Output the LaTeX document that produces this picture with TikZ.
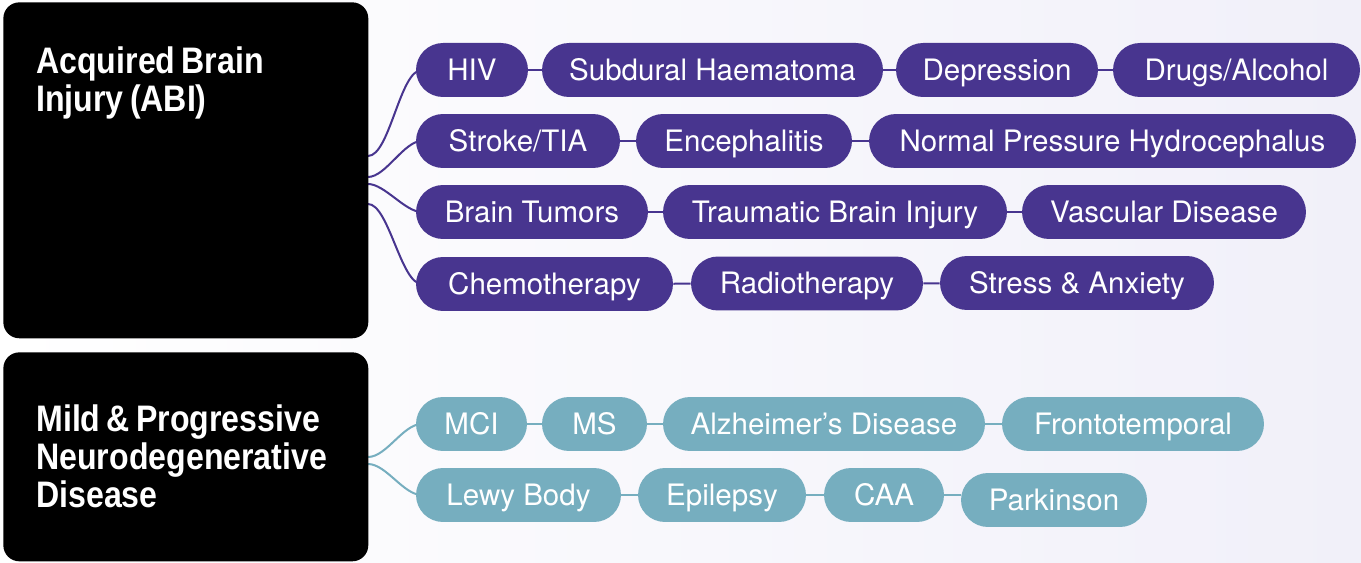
\documentclass[tikz,border=0pt]{standalone}
\usepackage{fontspec}
\setmainfont{TeX Gyre Heros}
\newfontfamily\titlefont[FakeStretch=0.87]{Liberation Sans}
\DeclareRobustCommand\tighttitle{\spaceskip=0.17em\relax}
\definecolor{pillPurple}{RGB}{72,53,143}
\definecolor{pillTeal}{RGB}{118,174,191}
\definecolor{bgLavender}{RGB}{241,240,249}
\usepackage{tikz}
\usetikzlibrary{backgrounds,calc}

\begin{document}
\begin{tikzpicture}[x=0.02cm,y=-0.02cm,
        catbox/.style={fill=black,rounded corners=0.32cm,anchor=north west,text=white,
                       font=\titlefont\bfseries\fontsize{21pt}{21.6pt}\selectfont,
                       align=left,text width=5.98cm,inner xsep=0.66cm,text height=0.52cm},
        pill/.style={rounded corners=0.54cm,minimum height=1.08cm,text=white,inner xsep=0pt,
                     font=\fontsize{16.8pt}{20pt}\selectfont,text height=0.42cm,text depth=0cm},
        abipill/.style={pill,fill=pillPurple},
        ndpill/.style={pill,fill=pillTeal},
        abilink/.style={draw=pillPurple,line width=0.04cm},
        ndlink/.style={draw=pillTeal,line width=0.04cm}
    ]
        \useasboundingbox (0,0) rectangle (1361,563);
        \begin{scope}[on background layer]
            \shade[left color=white,right color=bgLavender] (0,0) rectangle (1361,563);
        \end{scope}

        % category boxes
        \node[catbox,inner ysep=0.9cm,text depth=4.4cm] (abi) at (3,2) {\tighttitle
            Acquired Brain\\Injury (ABI)
        };
        \node[catbox,minimum height=4.18cm,text depth=1.52cm] (mpnd) at (3,352) {\tighttitle
            Mild \& Progressive\\Neurodegenerative\\Disease
        };
        \coordinate (abi-r1) at (368,156);
        \coordinate (abi-r2) at (368,177);
        \coordinate (abi-r3) at (368,184);
        \coordinate (abi-r4) at (368,204);
        \coordinate (mpnd-r1) at (368,457);
        \coordinate (mpnd-r2) at (368,464);

        % acquired brain injury
        \node[abipill,minimum width=2.24cm] (hiv) at (472,70) {HIV};
        \node[abipill,minimum width=6.82cm] (subdural) at (712.5,70) {Subdural Haematoma};
        \node[abipill,minimum width=4.04cm] (depression) at (997,70) {Depression};
        \node[abipill,minimum width=4.94cm] (drugs) at (1236.5,70) {Drugs/Alcohol};

        \node[abipill,minimum width=4.08cm] (stroke) at (518,141) {Stroke/TIA};
        \node[abipill,minimum width=4.32cm] (enceph) at (744,141) {Encephalitis};
        \node[abipill,minimum width=9.74cm] (nph) at (1112.5,141) {Normal Pressure Hydrocephalus};

        \node[abipill,minimum width=4.64cm] (tumors) at (532,212) {Brain Tumors};
        \node[abipill,minimum width=6.88cm] (tbi) at (835,212) {Traumatic Brain Injury};
        \node[abipill,minimum width=5.68cm] (vascular) at (1164,212) {Vascular Disease};

        \node[abipill,minimum width=5.14cm] (chemo) at (544.5,284) {Chemotherapy};
        \node[abipill,minimum width=4.64cm] (radio) at (807,283.5) {Radiotherapy};
        \node[abipill,minimum width=5.48cm] (stress) at (1077,283) {Stress \& Anxiety};

        % neurodegenerative disease
        \node[ndpill,minimum width=2.22cm] (mci) at (471.5,424) {MCI};
        \node[ndpill,minimum width=2.10cm] (ms) at (594.5,424) {MS};
        \node[ndpill,minimum width=6.44cm] (alz) at (824,424) {Alzheimer’s Disease};
        \node[ndpill,minimum width=5.24cm] (fronto) at (1133,424) {Frontotemporal};

        \node[ndpill,minimum width=4.10cm] (lewy) at (518.5,495) {Lewy Body};
        \node[ndpill,minimum width=3.36cm] (epil) at (722,495) {Epilepsy};
        \node[ndpill,minimum width=2.40cm] (caa) at (884,495) {CAA};
        \node[ndpill,minimum width=3.72cm] (park) at (1054,500) {Parkinson};

        % chains
        \draw[abilink] (hiv) -- (subdural);
        \draw[abilink] (subdural) -- (depression);
        \draw[abilink] (depression) -- (drugs);
        \draw[abilink] (stroke) -- (enceph);
        \draw[abilink] (enceph) -- (nph);
        \draw[abilink] (tumors) -- (tbi);
        \draw[abilink] (tbi) -- (vascular);
        \draw[abilink] (chemo) -- (radio);
        \draw[abilink] (radio) -- (stress);
        \draw[ndlink] (mci) -- (ms);
        \draw[ndlink] (ms) -- (alz);
        \draw[ndlink] (alz) -- (fronto);
        \draw[ndlink] (lewy) -- (epil);
        \draw[ndlink] (epil) -- (caa);
        \draw[ndlink] (caa.east) -- (caa.east -| park.west);

        % branches out of the boxes
        \begin{scope}[on background layer]
            \draw[abilink] (abi-r1) to[out=0,in=180,looseness=0.55] ($(hiv.west)+(6,0)$);
            \draw[abilink] (abi-r2) to[out=0,in=180,looseness=0.7] ($(stroke.west)+(6,0)$);
            \draw[abilink] (abi-r3) to[out=0,in=180,looseness=0.7] ($(tumors.west)+(6,0)$);
            \draw[abilink] (abi-r4) to[out=0,in=180,looseness=0.55] ($(chemo.west)+(6,0)$);
            \draw[ndlink] (mpnd-r1) to[out=0,in=180,looseness=0.75] ($(mci.west)+(6,0)$);
            \draw[ndlink] (mpnd-r2) to[out=0,in=180,looseness=0.75] ($(lewy.west)+(6,0)$);
        \end{scope}
    \end{tikzpicture}
\end{document}
